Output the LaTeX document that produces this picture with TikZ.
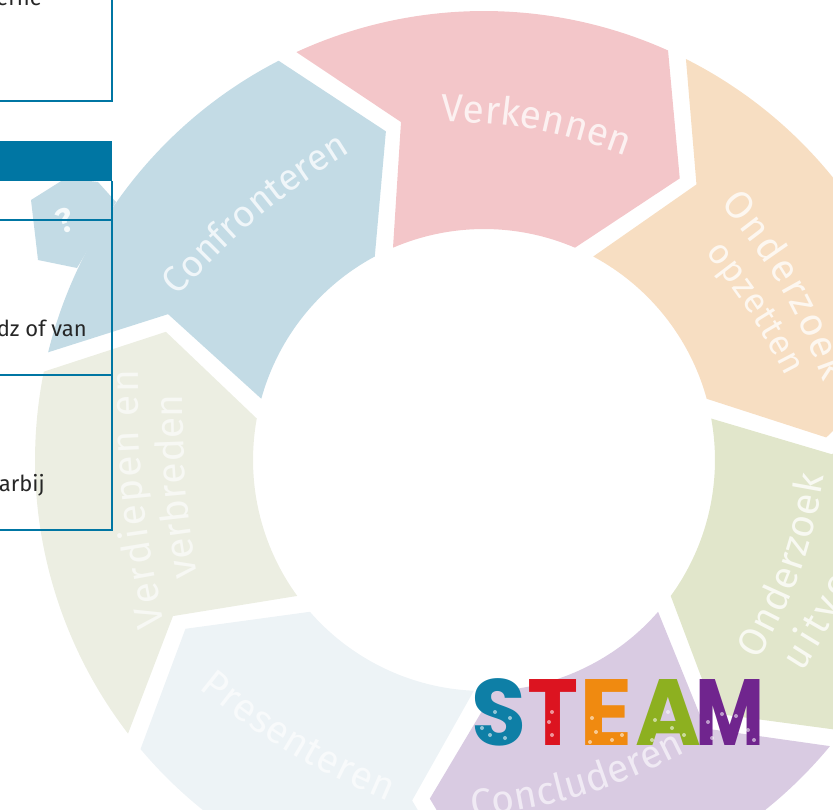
\documentclass[tikz,border=0pt]{standalone}
\usepackage{fontspec}
\setmainfont{Fira Sans}
\newfontfamily\logofont{Poppins}
\usetikzlibrary{decorations.text}

\definecolor{seg_pink}{HTML}{F3C6C9}
\definecolor{seg_orange}{HTML}{F7DEC2}
\definecolor{seg_green}{HTML}{E1E6CB}
\definecolor{seg_purple}{HTML}{D9CBE2}
\definecolor{seg_ice}{HTML}{EDF3F6}
\definecolor{seg_olive}{HTML}{ECEEE2}
\definecolor{seg_blue}{HTML}{C3DBE5}
\definecolor{table_blue}{HTML}{0076A3}
\definecolor{logo_teal}{HTML}{0E7FA6}
\definecolor{logo_red}{HTML}{DC1420}
\definecolor{logo_orange}{HTML}{F08A10}
\definecolor{logo_green}{HTML}{8DB020}
\definecolor{logo_purple}{HTML}{70258E}

\begin{document}
\begin{tikzpicture}[x=1pt,y=1pt]
	\tikzset{seg_label/.style n args={3}{decorate, decoration={text along path, text align=fit to path, text={|\fontsize{#3}{#3}\selectfont\color{white!#2}|#1}}}}
	\tikzstyle{table_line} = [draw=table_blue, line width=1.3pt]
	\tikzstyle{table_text} = [anchor=base east, inner sep=0pt, font=\fontsize{22}{26}\selectfont, text=black!85]
	\tikzstyle{logo_letter} = [anchor=base west, inner sep=0pt, font=\logofont\bfseries\fontsize{94}{94}\selectfont]
	\tikzstyle{logo_dot} = [circle, inner sep=0pt, minimum size=4pt, opacity=0.55]

	\useasboundingbox (0,0) rectangle (833,-809);
	\clip (0,0) rectangle (833,-809);

%------------------------------------------------------------
	\begin{scope}[shift={(484,-460)}]
	\foreach \col [count=\k from 0] in {seg_pink,seg_orange,seg_green,seg_purple,seg_ice,seg_olive,seg_blue}
		\fill[\col, rotate=-51.43*\k] (114.7:449) arc[start angle=114.7, end angle=65.8, radius=449] -- (55.2:343) -- (66.8:231) arc[start angle=66.8, end angle=113.2, radius=231] -- (103.8:348) -- cycle;
	\end{scope}
	\fill[seg_blue] (116,-202) -- (98,-182) -- (66,-178) -- (31,-200) -- (38,-260) -- (77,-268) -- cycle;

%------------------------------------------------------------

	\path[seg_label={Verkennen}{75!seg_pink}{39}] (441,-122) to[bend left=10] (626,-156);
	\path[seg_label={Onderzoek}{75!seg_orange}{39}] (720,-204) to[bend left=10] (823,-382);
	\path[seg_label={opzetten}{75!seg_orange}{35}] (705,-253) to[bend left=6] (786,-377);
	\path[seg_label={Onderzoek}{75!seg_green}{39}] (758,-660) to[bend right=10] (824,-476);
	\path[seg_label={uitvoeren}{75!seg_green}{39}] (802,-672) to[bend right=8] (886,-490);
	\path[seg_label={Concluderen}{60!seg_purple}{39}] (472,-817) to[bend right=10] (686,-752);
	\path[seg_label={Presenteren}{60!seg_ice}{39}] (199,-688) to[bend right=8] (388,-802);
	\path[seg_label={Verdiepen en}{60!seg_olive}{39}] (165,-625) to[bend left=6] (138,-370);
	\path[seg_label={verbreden}{60!seg_olive}{39}] (198,-576) to[bend left=5] (183,-396);
	\path[seg_label={Confronteren}{75!seg_blue}{37}] (178,-297) to[bend left=8] (351,-152);
	\node[rotate=20, text=white!85!seg_blue, font=\bfseries\fontsize{34}{34}\selectfont] (question) at (65,-221) {?};

%------------------------------------------------------------

	\fill[table_blue] (0,-141) rectangle (112,-181);
	\draw[table_line] (0,-101) -- (112,-101) -- (112,0);
	\draw[table_line] (0,-220) -- (112,-220);
	\draw[table_line] (0,-375) -- (112,-375);
	\draw[table_line] (0,-530) -- (112,-530) -- (112,-181);

	\node[table_text] (row_a) at (42,-5) {erne};
	\node[table_text] (row_b) at (87,-336) {dz of van};
	\node[table_text] (row_c) at (45,-491) {arbij};

%------------------------------------------------------------

	\node[logo_letter, text=logo_teal, xscale=0.95] (logo_s) at (471,-745) {S};
	\node[logo_letter, text=logo_red, xscale=0.92] (logo_t) at (527,-745) {T};
	\node[logo_letter, text=logo_orange, xscale=1.05] (logo_e) at (579,-745) {E};
	\node[logo_letter, text=logo_green, xscale=0.95] (logo_a) at (635,-745) {A};
	\node[logo_letter, text=logo_purple, xscale=0.8] (logo_m) at (695,-745) {M};

	\foreach \x/\y in {495/-712,510/-718,490/-735,505/-738,482/-728}
		\node[logo_dot, fill=white] (dot_s) at (\x,\y) {};
	\foreach \x/\y in {552/-712,549/-722,552/-735}
		\node[logo_dot, fill=white] (dot_t) at (\x,\y) {};
	\foreach \x/\y in {592/-718,596/-732,612/-740,622/-735,590/-742}
		\node[logo_dot, fill=white] (dot_e) at (\x,\y) {};
	\foreach \x/\y in {655/-720,672/-728,684/-735,652/-740,668/-712}
		\node[logo_dot, fill=white] (dot_a) at (\x,\y) {};
	\foreach \x/\y in {708/-722,722/-714,736/-716,748/-730,754/-740,712/-738}
		\node[logo_dot, fill=white] (dot_m) at (\x,\y) {};

\end{tikzpicture}
\end{document}
